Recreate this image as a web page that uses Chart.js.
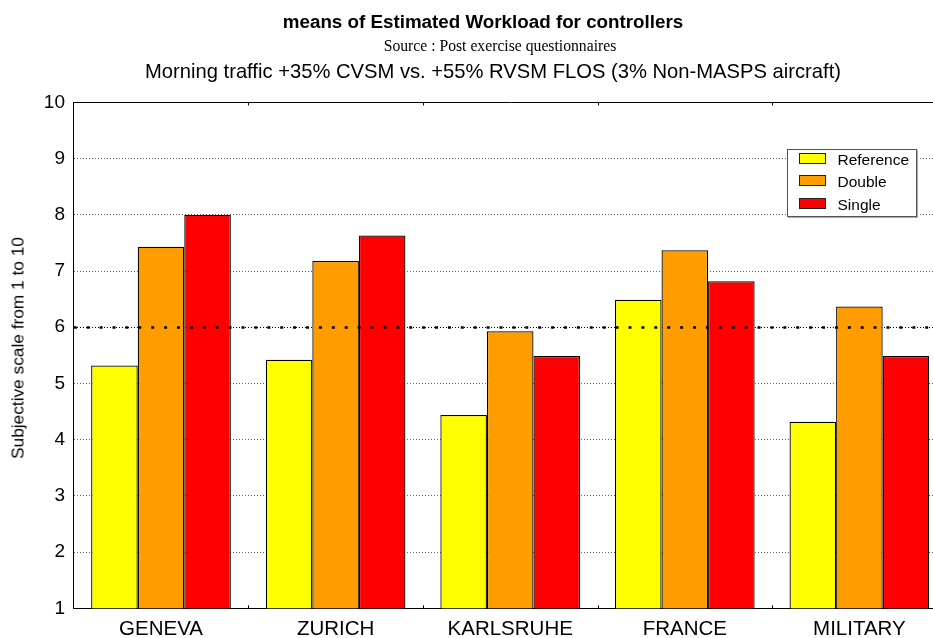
<!DOCTYPE html>
<html>
<head>
<meta charset="utf-8">
<script src="https://cdn.jsdelivr.net/npm/chart.js@4.4.1/dist/chart.umd.min.js"></script>
<style>
  html, body { margin: 0; padding: 0; background: #fff; overflow: hidden; width: 933px; height: 638px; }
  #wrap { position: absolute; left: 0; top: 0; width: 950px; height: 638px; }
  canvas { position: absolute; left: 0; top: 0; }
  .txt { position: absolute; white-space: nowrap; line-height: 1; color: #000; transform: translateX(-50%); }
  #title { font: bold 18.8px "Liberation Sans", Arial, sans-serif; left: 483px; top: 10.8px; }
  #source { font: 15.7px "Liberation Serif", "Times New Roman", serif; left: 500px; top: 37px; }
  #subtitle { font: 20.2px "Liberation Sans", Arial, sans-serif; left: 493px; top: 60.3px; }
  #ytitle { position: absolute; white-space: nowrap; line-height: 1; font: 17.3px "Liberation Sans", Arial, sans-serif;
            left: 18px; top: 347.5px; transform: translate(-50%, -50%) rotate(-90deg); }
  #legend { position: absolute; left: 786.5px; top: 149px; width: 130px; height: 67.5px; border: 1px solid #555;
            box-shadow: 1px 1px 0 #aaa; background: #fff; box-sizing: border-box; }
  .lrow { position: absolute; left: 11px; height: 12px; }
  .lsw { position: absolute; left: 0; top: 0; width: 27px; height: 11px; border: 1px solid #222; box-sizing: border-box; }
  .llab { position: absolute; left: 39px; top: -1px; font: 15.5px "Liberation Sans", Arial, sans-serif; line-height: 1; white-space: nowrap; }
</style>
</head>
<body>
<div id="wrap"><canvas id="c" width="950" height="638"></canvas></div>
<div class="txt" id="title">means of Estimated Workload for controllers</div>
<div class="txt" id="source">Source : Post exercise questionnaires</div>
<div class="txt" id="subtitle">Morning traffic +35% CVSM vs. +55% RVSM FLOS (3% Non-MASPS aircraft)</div>
<div id="ytitle">Subjective scale from 1 to 10</div>
<div id="legend"></div>
<script>
const categories = ['GENEVA', 'ZURICH', 'KARLSRUHE', 'FRANCE', 'MILITARY'];
const seriesNames = ['Reference', 'Double', 'Single'];
const referenceValues = [5.32, 5.42, 4.44, 6.49, 4.32];
const doubleValues = [7.43, 7.18, 5.93, 7.37, 6.37];
const singleValues = [8.0, 7.63, 5.49, 6.82, 5.49];
const seriesColors = ['#FFFF00', '#FF9C00', '#FF0000'];
const yMin = 1, yMax = 10, yStep = 1;
const thresholdValue = 6;

const seriesValues = [referenceValues, doubleValues, singleValues];

// HTML legend built from the series arrays
const legendEl = document.getElementById('legend');
seriesNames.forEach((name, i) => {
  const row = document.createElement('div');
  row.className = 'lrow';
  row.style.top = (3 + i * 22.3) + 'px';
  row.innerHTML = '<div class="lsw" style="background:' + seriesColors[i] + '"></div><div class="llab">' + name + '</div>';
  legendEl.appendChild(row);
});

const overlayPlugin = {
  id: 'overlay',
  afterDatasetsDraw(chart) {
    const {ctx, chartArea} = chart;
    const ys = chart.scales.y, xs = chart.scales.x;
    // thick dotted threshold line on top of bars
    const y = Math.round(ys.getPixelForValue(thresholdValue)) + 0.5;
    ctx.save();
    ctx.strokeStyle = '#000';
    ctx.lineWidth = 2.4;
    ctx.setLineDash([3, 9.9]);
    ctx.lineDashOffset = -13;
    ctx.beginPath();
    ctx.moveTo(chartArea.left, y);
    ctx.lineTo(chartArea.right, y);
    ctx.stroke();
    ctx.restore();
    // small tick marks at category boundaries (top and bottom)
    ctx.save();
    ctx.strokeStyle = '#000';
    ctx.lineWidth = 1;
    for (let i = 0; i < categories.length - 1; i++) {
      const bx = Math.round((xs.getPixelForValue(i) + xs.getPixelForValue(i + 1)) / 2) + 0.5;
      ctx.beginPath();
      ctx.moveTo(bx, chartArea.top);
      ctx.lineTo(bx, chartArea.top + 3);
      ctx.moveTo(bx, chartArea.bottom);
      ctx.lineTo(bx, chartArea.bottom - 3);
      ctx.stroke();
    }
    ctx.restore();
  }
};

new Chart(document.getElementById('c'), {
  type: 'bar',
  data: {
    labels: categories,
    datasets: seriesNames.map((name, i) => ({
      label: name,
      data: seriesValues[i],
      backgroundColor: seriesColors[i],
      borderColor: '#000',
      borderWidth: 1.25,
      borderSkipped: false,
      barPercentage: 1.0,
      categoryPercentage: 0.8
    }))
  },
  options: {
    responsive: false,
    animation: false,
    devicePixelRatio: 1,
    layout: { padding: { top: 102.4, right: 3.3, left: 0, bottom: 0 } },
    plugins: {
      legend: { display: false },
      title: { display: false },
      tooltip: { enabled: false }
    },
    scales: {
      x: {
        afterFit(scale) { scale.height = 29.7; },
        grid: { display: false, drawTicks: false },
        border: { display: true, color: '#000', width: 1 },
        ticks: {
          color: '#000',
          padding: 8.5,
          font: { family: '"Liberation Sans", Arial, sans-serif', size: 20.5 }
        }
      },
      y: {
        min: yMin,
        max: yMax,
        afterFit(scale) { scale.width = 73.7; },
        grid: {
          drawTicks: false,
          lineWidth: 1,
          color: (c) => {
            if (!c.tick) return '#000';
            if (c.tick.value === yMin) return 'rgba(0,0,0,0)';
            if (c.tick.value === yMax || c.tick.value === thresholdValue) return '#000';
            return '#666';
          }
        },
        border: {
          display: true,
          color: '#000',
          width: 1,
          dash: (c) => {
            if (!c.tick || c.tick.value === yMax) return [];
            return [1, 2];
          }
        },
        ticks: {
          stepSize: yStep,
          color: '#000',
          padding: 8.7,
          font: { family: '"Liberation Sans", Arial, sans-serif', size: 19 }
        }
      }
    }
  },
  plugins: [overlayPlugin]
});
</script>
</body>
</html>
